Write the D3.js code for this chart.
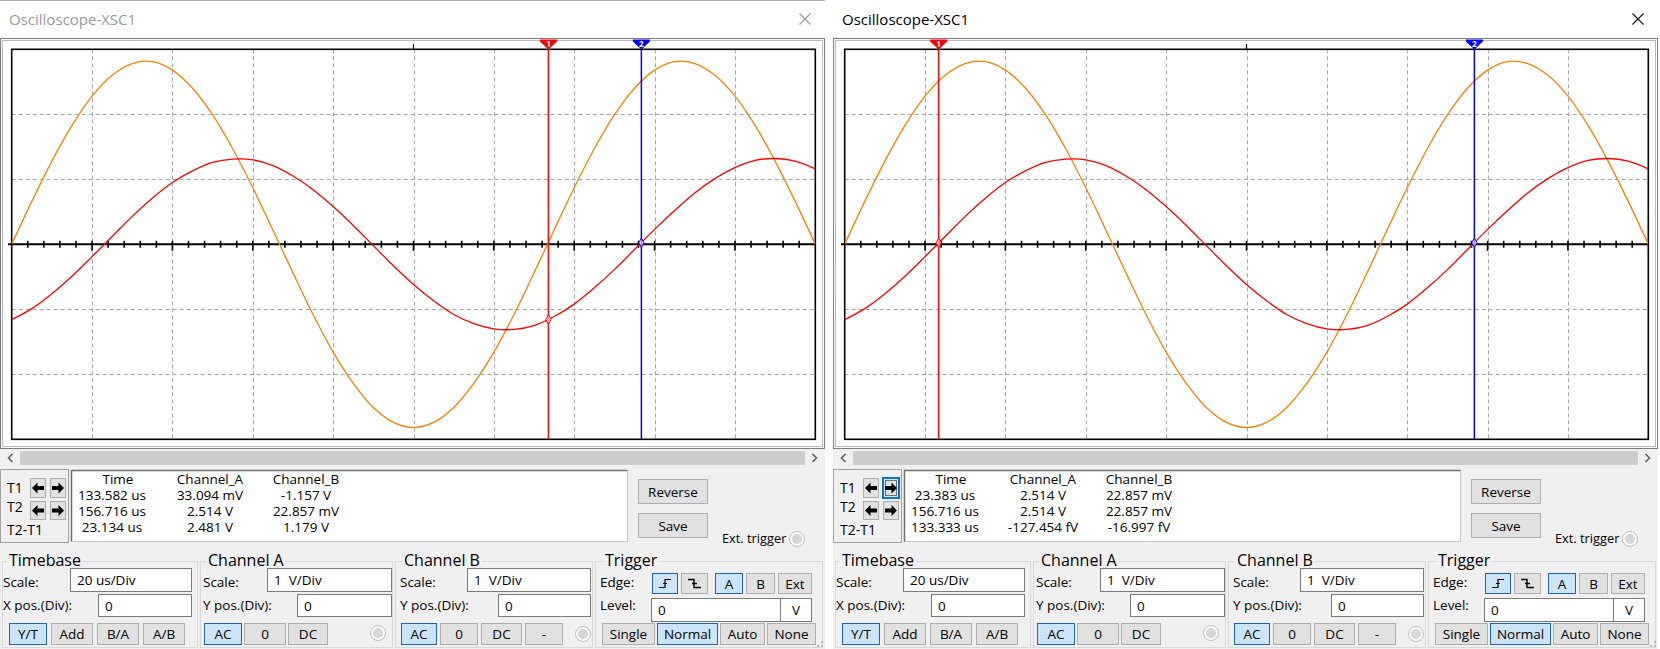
<!DOCTYPE html>
<html><head><meta charset="utf-8">
<script src="https://cdn.jsdelivr.net/npm/d3@7"></script>
<style>body{margin:0;background:#fff;overflow:hidden}svg{display:block}text{font-family:"Open Sans","Noto Sans",sans-serif;white-space:pre}</style>
</head><body><svg id="c" width="1660" height="649"></svg>
<script>
// ---- data ----
const timeUs = [0,5,10,15,20,25,30,35,40,45,50,55,60,65,70,75,80,85,90,95,100,105,110,115,120,125,130,135,140,145,150,155,160,165,170,175,180,185,190,195,200];
const channelA = [0,0.66,1.28,1.83,2.28,2.60,2.78,2.81,2.68,2.40,1.99,1.47,0.87,0.22,-0.44,-1.08,-1.66,-2.14,-2.51,-2.74,-2.82,-2.74,-2.51,-2.14,-1.66,-1.08,-0.44,0.22,0.87,1.47,1.99,2.40,2.68,2.81,2.78,2.60,2.28,1.83,1.28,0.66,0];
const channelB = [-1.16,-0.99,-0.76,-0.49,-0.19,0.12,0.43,0.71,0.95,1.13,1.26,1.31,1.30,1.21,1.05,0.84,0.58,0.29,-0.02,-0.33,-0.62,-0.87,-1.08,-1.22,-1.30,-1.31,-1.25,-1.11,-0.92,-0.67,-0.39,-0.08,0.23,0.52,0.79,1.01,1.18,1.29,1.32,1.28,1.16];
const tableHeader = ["Time","Channel_A","Channel_B"];
const rowLabels = ["T1","T2","T2-T1"];
const leftCursorT = [133.582,156.716];
const leftCursorB = [-1.157,0.022857];
const leftRows = [["133.582 us","33.094 mV","-1.157 V"],["156.716 us","2.514 V","22.857 mV"],["23.134 us","2.481 V","1.179 V"]];
const rightCursorT = [23.383,156.716];
const rightCursorB = [0.022857,0.022857];
const rightRows = [["23.383 us","2.514 V","22.857 mV"],["156.716 us","2.514 V","22.857 mV"],["133.333 us","-127.454 fV","-16.997 fV"]];
const timebaseScale = "20 us/Div", chAScale = "1  V/Div", chBScale = "1  V/Div";

const svg = d3.select('#c');
function txt(g,x,y,s,o={}){return g.append('text').attr('x',x).attr('y',y).text(s)
  .attr('font-size',o.size||13).attr('fill',o.fill||'#000').attr('text-anchor',o.anchor||'start')
  .attr('font-weight',o.weight||'normal');}
function btn(g,x0,x1,y0,y1,label,sel){
  g.append('rect').attr('x',x0+0.5).attr('y',y0+0.5).attr('width',x1-x0-1).attr('height',y1-y0-1)
   .attr('fill',sel?'#cce4f7':'#e1e1e1').attr('stroke',sel?'#1e64b4':'#adadad');
  if(label!==null&&label!==undefined) txt(g,(x0+x1)/2,(y0+y1)/2+5,label,{anchor:'middle',size:13.5});
}
function input(g,x0,x1,y0,y1,label){
  g.append('rect').attr('x',x0+0.5).attr('y',y0+0.5).attr('width',x1-x0-1).attr('height',y1-y0-1)
   .attr('fill','#fff').attr('stroke','#7a7a7a');
  if(label) txt(g,x0+7,(y0+y1)/2+5,label,{size:13.5});
}
function radio(g,cx,cy){
  g.append('circle').attr('cx',cx).attr('cy',cy).attr('r',7.5).attr('fill','#fff').attr('stroke','#bdbdbd');
  g.append('circle').attr('cx',cx).attr('cy',cy).attr('r',5).attr('fill','#d6d6d6');
}
function group(g,x0,x1,y0,y1,label,lx){
  g.append('rect').attr('x',x0+0.5).attr('y',y0+0.5).attr('width',x1-x0).attr('height',y1-y0)
   .attr('fill','none').attr('stroke','#d9d9d9');
  const t=txt(g,lx,566,label,{size:16});
  const w=t.node().getComputedTextLength();
  g.insert('rect',()=>t.node()).attr('x',lx-2).attr('y',555).attr('width',w+4).attr('height',12).attr('fill','#f0f0f0');
}
function arrow(g,cx,cy,dir){
  const s=dir;
  g.append('path').attr('d',`M${cx-6*s},${cy} L${cx-0.5*s},${cy-5.5} L${cx-0.5*s},${cy-2} L${cx+6*s},${cy-2} L${cx+6*s},${cy+2} L${cx-0.5*s},${cy+2} L${cx-0.5*s},${cy+5.5} Z`).attr('fill','#000');
}

function drawWindow(dx,cfg){
  const g=svg.append('g').attr('transform',`translate(${dx},0)`);
  const W=825;
  g.append('rect').attr('x',0).attr('y',0).attr('width',W).attr('height',449).attr('fill','#fff');
  if(!cfg.active) g.append('line').attr('x1',0).attr('x2',W).attr('y1',0.5).attr('y2',0.5).attr('stroke','#b0b0b0');
  txt(g,9,25,'Oscilloscope-XSC1',{size:15,fill:cfg.active?'#000':'#9a9a9a'});
  g.append('path').attr('d','M799.5,13.5 L810.5,24.5 M810.5,13.5 L799.5,24.5')
   .attr('stroke',cfg.active?'#111':'#999').attr('stroke-width',1.1).attr('fill','none');
  // frame
  g.append('rect').attr('x',0.5).attr('y',38.5).attr('width',W-1).attr('height',410).attr('fill','#fff').attr('stroke','#7c7c7c');
  g.append('rect').attr('x',2.5).attr('y',40.5).attr('width',W-5).attr('height',406).attr('fill','none').attr('stroke','#b9b9b9');

  // screen
  const X0=11.7,X1=815.3,Y0=49.3,Y1=439.3;
  const x=d3.scaleLinear().domain([0,200]).range([X0,X1]);
  const y=d3.scaleLinear().domain([-3,3]).range([Y1,Y0]);
  const cid='clip'+dx;
  g.append('clipPath').attr('id',cid).append('rect').attr('x',X0).attr('y',Y0).attr('width',X1-X0).attr('height',Y1-Y0);
  g.append('rect').attr('x',X0).attr('y',Y0).attr('width',X1-X0).attr('height',Y1-Y0).attr('fill','#fff');
  const grid=g.append('g').attr('stroke','#a8a8a8').attr('stroke-dasharray','4,3').attr('stroke-width',1);
  d3.range(20,200,20).forEach(t=>grid.append('line').attr('x1',Math.round(x(t))+0.5).attr('x2',Math.round(x(t))+0.5).attr('y1',Y0).attr('y2',Y1));
  [-2,-1,1,2].forEach(v=>grid.append('line').attr('y1',Math.round(y(v))+0.5).attr('y2',Math.round(y(v))+0.5).attr('x1',X0).attr('x2',X1));
  // axis
  const y0=y(0);
  g.append('line').attr('x1',8).attr('x2',X1).attr('y1',y0).attr('y2',y0).attr('stroke','#000').attr('stroke-width',2);
  d3.range(4,200,4).forEach(t=>{
    const major=(t%20===0);
    g.append('line').attr('x1',x(t)).attr('x2',x(t)).attr('y1',y0-3.5).attr('y2',y0+(major?6.5:3.5)).attr('stroke','#000').attr('stroke-width',1.6);
  });
  g.append('rect').attr('x',X0).attr('y',Y0).attr('width',X1-X0).attr('height',Y1-Y0).attr('fill','none').attr('stroke','#000').attr('stroke-width',1.6);
  g.append('line').attr('x1',x(100)).attr('x2',x(100)).attr('y1',44).attr('y2',Y0).attr('stroke','#000').attr('stroke-width',1.2);

  // traces
  const tr=g.append('g').attr('clip-path',`url(#${cid})`);
  const lineA=d3.line().x((d,i)=>x(timeUs[i])).y(d=>y(d)).curve(d3.curveCatmullRom);
  tr.append('path').attr('d',lineA(channelA)).attr('fill','none').attr('stroke','#ff8000').attr('stroke-width',1.3);
  tr.append('path').attr('d',lineA(channelB)).attr('fill','none').attr('stroke','#ff0000').attr('stroke-width',1.3);

  // cursors
  const cc=['#ff0000','#0000ff'];
  cfg.ct.forEach((t,i)=>{
    const cx=x(t);
    g.append('line').attr('x1',cx).attr('x2',cx).attr('y1',Y0).attr('y2',Y1).attr('stroke',cc[i]).attr('stroke-width',1.5);
    g.append('path').attr('d',`M${cx-8.5},39.5 H${cx+8.5} V41.5 L${cx},49.5 L${cx-8.5},41.5 Z`).attr('fill',cc[i]);
    txt(g,cx,46.5,String(i+1),{size:8,fill:'#fff',anchor:'middle',weight:'bold'});
    g.append('path').attr('d',d3.symbol(d3.symbolDiamond,26)()).attr('transform',`translate(${cx},${y(cfg.cb[i])})`)
     .attr('fill','#fff').attr('fill-opacity',0.6).attr('stroke',i===1?'#0000ff':'#ff0000').attr('stroke-width',1);
  });

  // bottom panel
  g.append('rect').attr('x',0).attr('y',449).attr('width',W).attr('height',200).attr('fill','#f0f0f0');
  g.append('rect').attr('x',20).attr('y',451).attr('width',785).attr('height',14).attr('fill','#cdcdcd');
  g.append('path').attr('d','M12.5,454 L8.5,458 L12.5,462 M812.5,454 L816.5,458 L812.5,462').attr('fill','none').attr('stroke','#606060').attr('stroke-width',1.6);

  // T box
  g.append('rect').attr('x',0.5).attr('y',469.5).attr('width',68).attr('height',73).attr('fill','#f0f0f0').attr('stroke','#a0a0a0');
  txt(g,7,493,rowLabels[0],{size:14}); txt(g,7,512,rowLabels[1],{size:14}); txt(g,7,535,rowLabels[2],{size:14});
  [[478,498],[501,520]].forEach(([a,b],r)=>{
    btn(g,30,46,a,b,null,false); arrow(g,38,(a+b)/2,1);
    btn(g,50,66,a,b,null,false); arrow(g,58,(a+b)/2,-1);
    if(r===0&&cfg.focus){
      g.append('rect').attr('x',50).attr('y',a).attr('width',16).attr('height',b-a).attr('fill','none').attr('stroke','#0078d7').attr('stroke-width',2);
      g.append('rect').attr('x',52.5).attr('y',a+2.5).attr('width',11).attr('height',b-a-5).attr('fill','none').attr('stroke','#000').attr('stroke-dasharray','1,1');
    }
  });
  // table
  g.append('rect').attr('x',71.5).attr('y',470.5).attr('width',556).attr('height',71).attr('fill','#fff').attr('stroke','#c8c8c8');
  g.append('path').attr('d','M71.5,541.5 V470.5 H627.5').attr('fill','none').attr('stroke','#6f6f6f').attr('stroke-width',1.5);
  const colX=[118,210,306], valX=[112,210,306];
  tableHeader.forEach((h,i)=>txt(g,colX[i],484,h,{anchor:'middle',size:13.5}));
  cfg.rows.forEach((row,r)=>row.forEach((v,i)=>txt(g,valX[i],500+16*r,v,{anchor:'middle',size:13.5})));
  btn(g,638,708,479,504,'Reverse',false);
  btn(g,638,708,513,538,'Save',false);
  txt(g,722,543,'Ext. trigger',{size:12.8});
  radio(g,797,539);

  // groups
  group(g,2,197,561,647,'Timebase',9);
  group(g,200,392,561,647,'Channel A',208);
  group(g,395,592,561,647,'Channel B',404);
  group(g,595,822,561,647,'Trigger',605);
  const L={size:13.5};
  // timebase
  txt(g,3,587,'Scale:',L); input(g,70,192,568,592,timebaseScale);
  txt(g,3,610,'X pos.(Div):',L); input(g,98,192,594,617,'0');
  btn(g,9,47,623,645,'Y/T',true); btn(g,51,93,623,645,'Add',false);
  btn(g,97,139,623,645,'B/A',false); btn(g,143,185,623,645,'A/B',false);
  // channel A
  txt(g,203,587,'Scale:',L); input(g,267,392,568,592,chAScale);
  txt(g,203,610,'Y pos.(Div):',L); input(g,297,392,594,617,'0');
  btn(g,204,242,623,645,'AC',true); btn(g,244,286,623,645,'0',false); btn(g,288,328,623,645,'DC',false);
  radio(g,378,633);
  // channel B
  txt(g,400,587,'Scale:',L); input(g,467,591,568,592,chBScale);
  txt(g,400,610,'Y pos.(Div):',L); input(g,498,591,594,617,'0');
  btn(g,401,437,623,645,'AC',true); btn(g,440,478,623,645,'0',false);
  btn(g,481,522,623,645,'DC',false); btn(g,525,563,623,645,'-',false);
  radio(g,583,634);
  // trigger
  txt(g,600,587,'Edge:',L);
  btn(g,652,678,573,594,null,true); btn(g,681,708,573,594,null,false);
  g.append('path').attr('d','M659,587.5 H665 V579.5 H671 M663,583.5 H667').attr('fill','none').attr('stroke','#000').attr('stroke-width',1.2);
  g.append('path').attr('d','M688,579.5 H694 V587.5 H701 M692,583.5 H697').attr('fill','none').attr('stroke','#000').attr('stroke-width',1.4);
  btn(g,715,743,573,594,'A',true); btn(g,746,775,573,594,'B',false); btn(g,778,812,573,594,'Ext',false);
  txt(g,600,610,'Level:',L);
  input(g,651,781,598,622,'0'); input(g,780,812,598,622,null);
  txt(g,796,615,'V',{anchor:'middle',size:13.5});
  btn(g,602,655,623,645,'Single',false); btn(g,657,718,623,645,'Normal',true);
  btn(g,720,765,623,645,'Auto',false); btn(g,767,816,623,645,'None',false);
  // grip
  [[821,641],[821,645],[817,645]].forEach(([a,b])=>g.append('rect').attr('x',a).attr('y',b).attr('width',2).attr('height',2).attr('fill','#b5b5b5'));
}

drawWindow(0,{active:false,ct:leftCursorT,cb:leftCursorB,rows:leftRows,focus:false});
drawWindow(833,{active:true,ct:rightCursorT,cb:rightCursorB,rows:rightRows,focus:true});
</script></body></html>
